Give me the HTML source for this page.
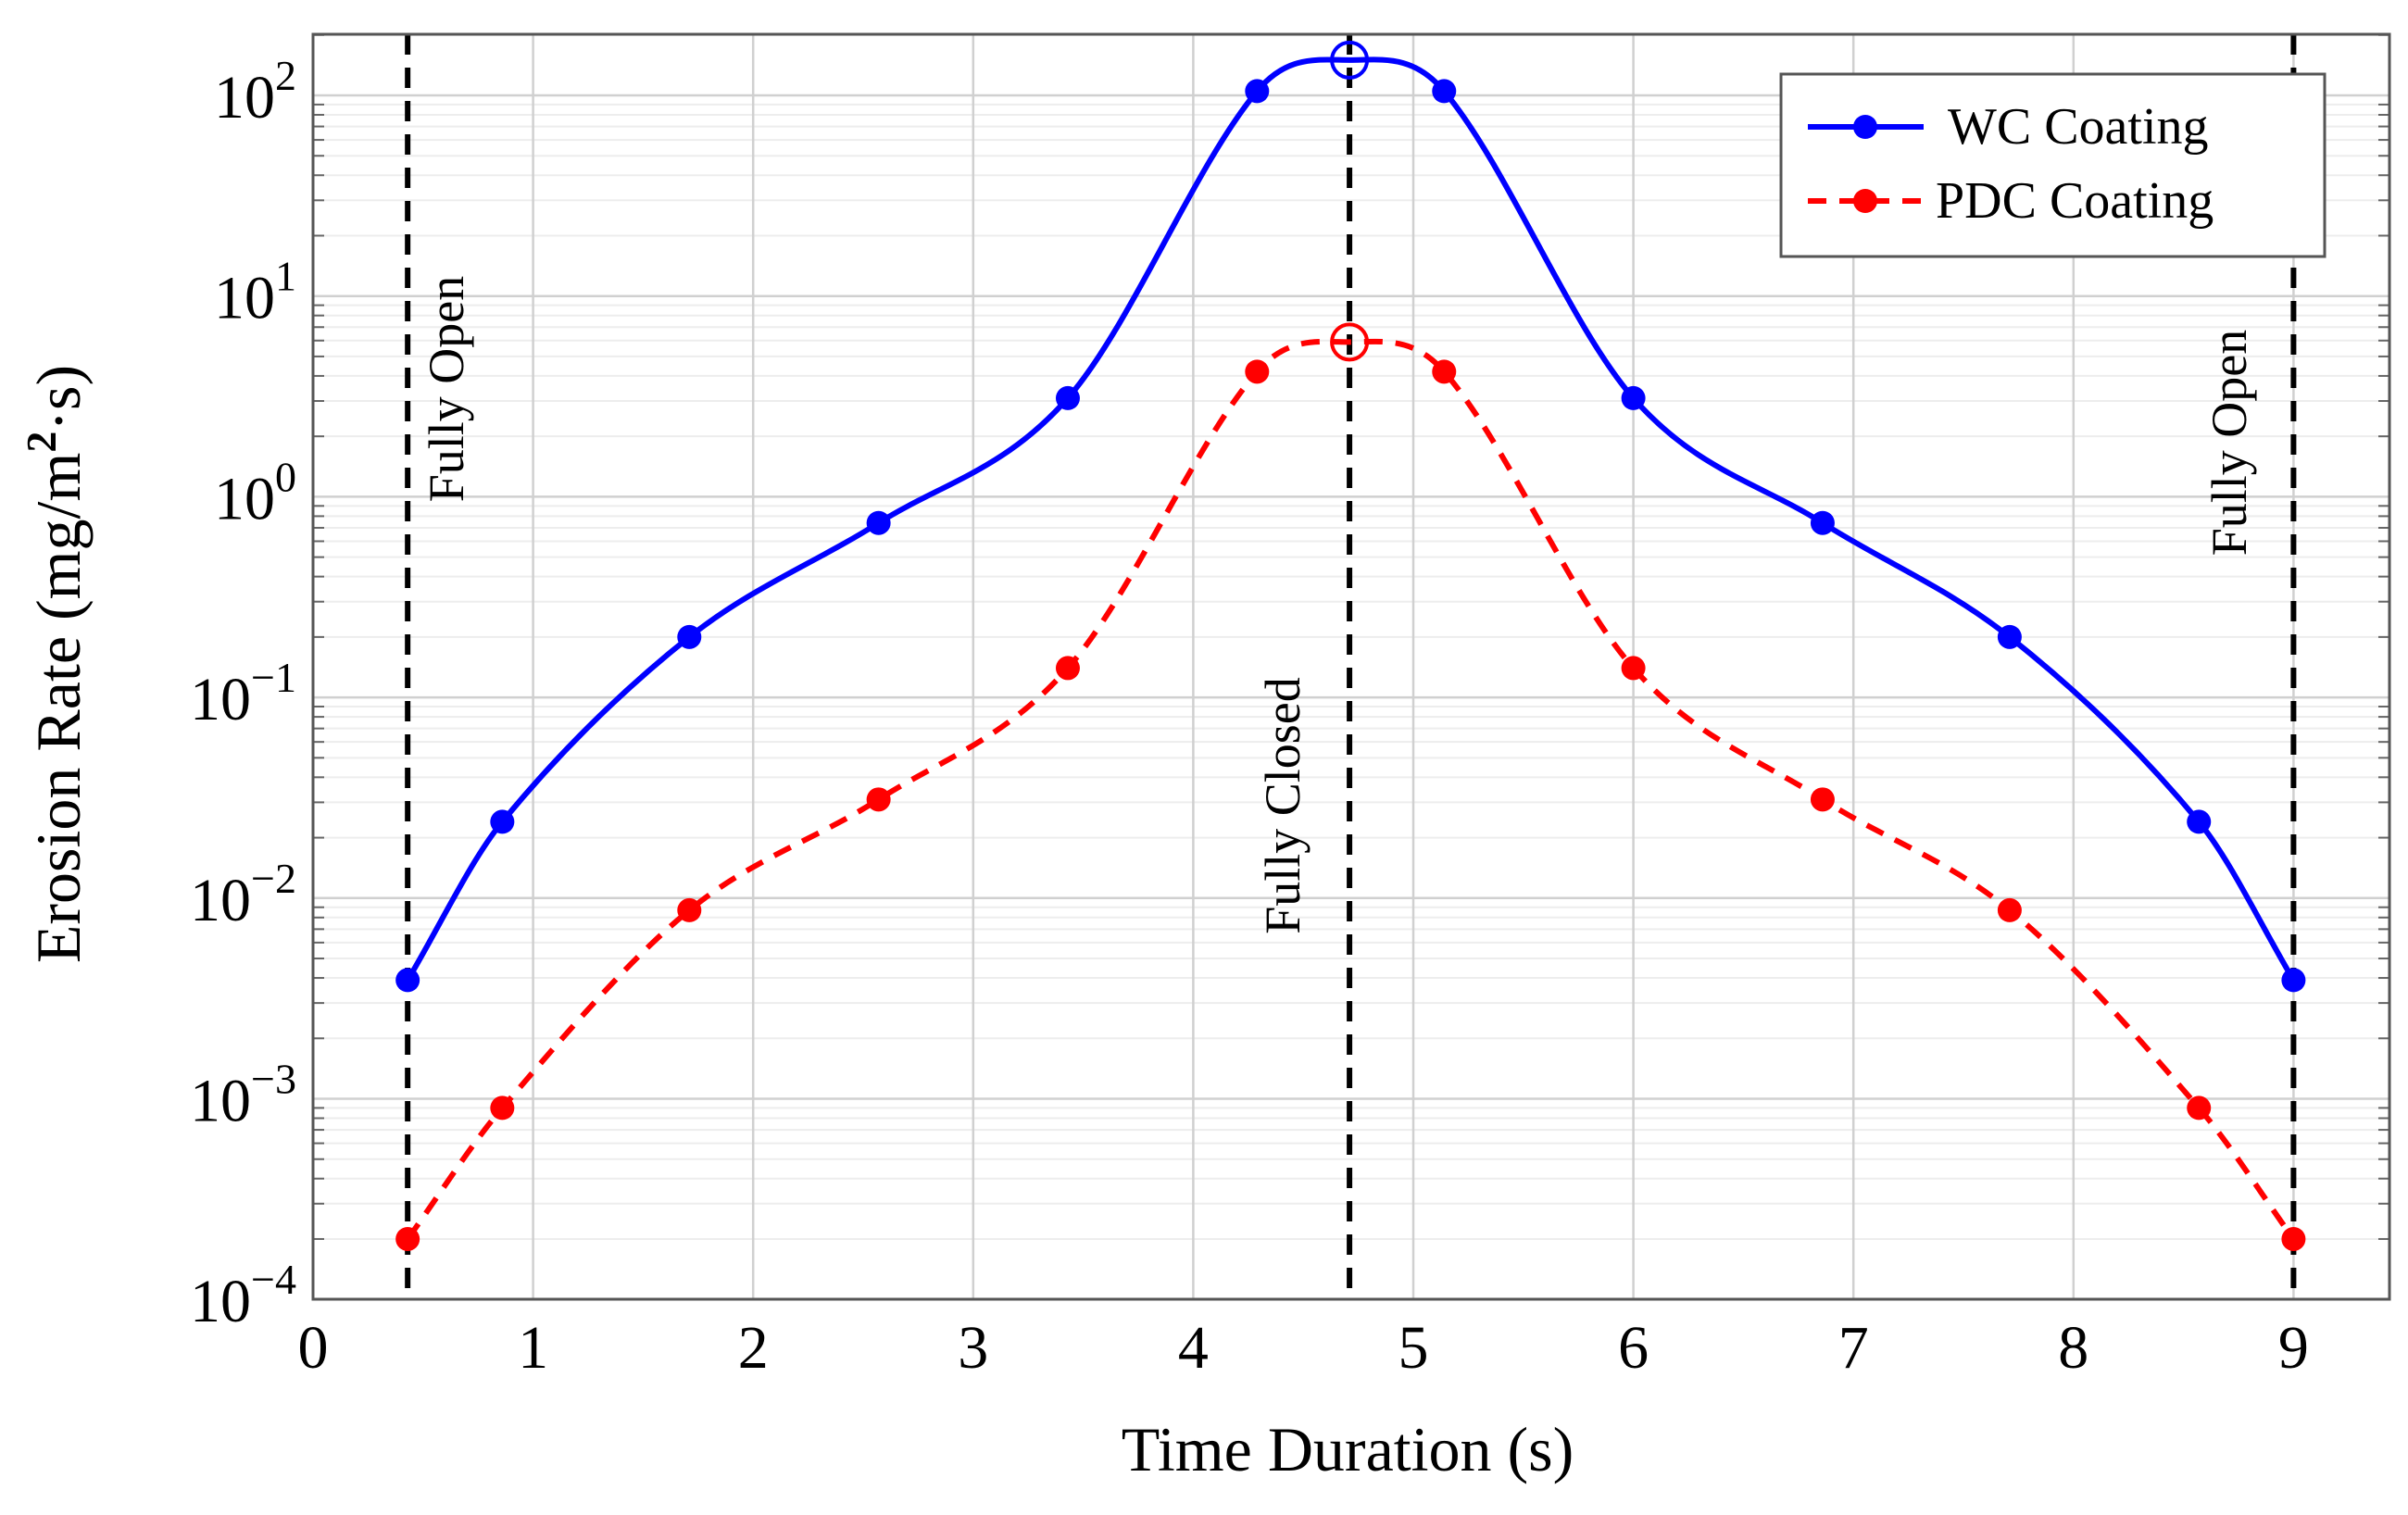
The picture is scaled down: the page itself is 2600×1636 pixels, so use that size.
<!DOCTYPE html>
<html><head><meta charset="utf-8"><style>
html,body{margin:0;padding:0;background:#fff}
svg{display:block}
text{font-family:"Liberation Serif",serif;fill:#000}
</style></head><body>
<svg id="chart" width="2600" height="1636" viewBox="0 0 2600 1636" xmlns="http://www.w3.org/2000/svg">
<g id="grid"></g>
<g id="marks"></g>
<g id="axes"></g>
<text transform="translate(86,717) rotate(-90)" text-anchor="middle" font-size="68">Erosion Rate (mg/m<tspan font-size="46" dy="-26" font-weight="bold">2</tspan><tspan dy="26">·s)</tspan></text>
<text x="1455" y="1588" text-anchor="middle" font-size="68">Time Duration (s)</text>
<g>
<rect x="1923" y="80" width="587" height="197" fill="#fff" stroke="#555" stroke-width="3"/>
<g>
<line x1="1952" y1="137" x2="2077" y2="137" stroke="#0000ff" stroke-width="6"/>
<circle cx="2014" cy="137" r="13" fill="#0000ff"/>
<text x="2103" y="155" font-size="56">WC Coating</text></g>
<g>
<line x1="1952" y1="217" x2="2077" y2="217" stroke="#ff0000" stroke-width="6" stroke-dasharray="20 14"/>
<circle cx="2014" cy="217" r="13" fill="#ff0000"/>
<text x="2090" y="235" font-size="56">PDC Coating</text></g>
</g>
</svg>
<script>
const xTicks = [0,1,2,3,4,5,6,7,8,9];
const yDecades = [-4,-3,-2,-1,0,1,2];
const times = [0.43,0.86,1.71,2.57,3.43,4.29,4.71,5.14,6.0,6.86,7.71,8.57,9.0];
const wcValues = [0.0039,0.024,0.2,0.74,3.1,105,150,105,3.1,0.74,0.2,0.024,0.0039];
const pdcValues = [0.0002,0.0009,0.0087,0.031,0.14,4.2,5.9,4.2,0.14,0.031,0.0087,0.0009,0.0002];
const peakIndex = 6;
const markerLines = [0.43,4.71,9.0];
const markerLabels = ["Fully Open","Fully Closed","Fully Open"];

const L=338,R=2580,T=37,B=1403;
const X0=338,XU=237.6;
const Y2=103,DEC=216.7;
const sx=v=>X0+v*XU;
const sy=v=>Y2+(2-Math.log10(v))*DEC;
const NS="http://www.w3.org/2000/svg";
function mk(tag,attrs,parent){const e=document.createElementNS(NS,tag);for(const k in attrs)e.setAttribute(k,attrs[k]);parent.appendChild(e);return e;}
const grid=document.getElementById('grid'),marks=document.getElementById('marks'),axes=document.getElementById('axes');

yDecades.forEach(d=>{
  for(let m=2;m<=9;m++){const v=m*Math.pow(10,d);const y=sy(v);if(y<T)continue;
    const ln=mk('line',{x1:L,x2:R,y1:y,y2:y,stroke:'#ededed','stroke-width':2},grid);
    
    
    mk('line',{x1:L,x2:L+12,y1:y,y2:y,stroke:'#666','stroke-width':2},axes);
    mk('line',{x1:R-12,x2:R,y1:y,y2:y,stroke:'#666','stroke-width':2},axes);}
});
yDecades.forEach(d=>{const y=sy(Math.pow(10,d));
  const ln=mk('line',{x1:L,x2:R,y1:y,y2:y,stroke:'#d0d0d0','stroke-width':2.5},grid);
  
  
  const t=mk('text',{x:L-18,y:y+24,'text-anchor':'end','font-size':66},axes);
  
  
  t.textContent='10';
  const s=mk('tspan',{dy:-30,'font-size':46},t); s.textContent=(d<0?'\u2212':'')+Math.abs(d);
});
xTicks.forEach(v=>{const x=sx(v);
  const ln=mk('line',{x1:x,x2:x,y1:T,y2:B,stroke:'#d0d0d0','stroke-width':2.5},grid);
  
  
  const t=mk('text',{x:x,y:B+74,'text-anchor':'middle','font-size':66},axes);
  
  
  t.textContent=v;
});
const frame=mk('rect',{x:L,y:T,width:R-L,height:B-T,fill:'none',stroke:'#555','stroke-width':3},axes);



const labelPos=[[500,420],[1403,870],[2425,478]];
markerLines.forEach((v,i)=>{const x=sx(v);
  const ln=mk('line',{x1:x,x2:x,y1:T,y2:B,stroke:'#000','stroke-width':6,'stroke-dasharray':'22 14'},marks);
  
  
  const t=mk('text',{transform:`translate(${labelPos[i][0]},${labelPos[i][1]}) rotate(-90)`,'text-anchor':'middle','font-size':54},marks);
  
  
  t.textContent=markerLabels[i];
});

function curve(vals){const p=times.map((t,i)=>[sx(t),sy(vals[i])]);
  const n=p.length, m=[];
  for(let i=0;i<n;i++){
    if(i===0) m.push((p[1][1]-p[0][1])/(p[1][0]-p[0][0]));
    else if(i===n-1) m.push((p[n-1][1]-p[n-2][1])/(p[n-1][0]-p[n-2][0]));
    else m.push((p[i+1][1]-p[i-1][1])/(p[i+1][0]-p[i-1][0]));
  }
  let d=`M${p[0][0]},${p[0][1]}`;
  for(let i=0;i<n-1;i++){const h=(p[i+1][0]-p[i][0])/3;
    d+=` C${p[i][0]+h},${p[i][1]+m[i]*h} ${p[i+1][0]-h},${p[i+1][1]-m[i+1]*h} ${p[i+1][0]},${p[i+1][1]}`;}
  return d;}
function series(vals,color,dash,name){
  const path=mk('path',{d:curve(vals),fill:'none',stroke:color,'stroke-width':6,'stroke-dasharray':dash},marks);
  
  
  vals.forEach((v,i)=>{
    const c = i===peakIndex
      ? mk('circle',{cx:sx(times[i]),cy:sy(v),r:19,fill:'none',stroke:color,'stroke-width':4},marks)
      : mk('circle',{cx:sx(times[i]),cy:sy(v),r:13,fill:color},marks);
    
    
  });
}
series(pdcValues,'#ff0000','20 14','pdc');
series(wcValues,'#0000ff','none','wc');
</script>
</body></html>
